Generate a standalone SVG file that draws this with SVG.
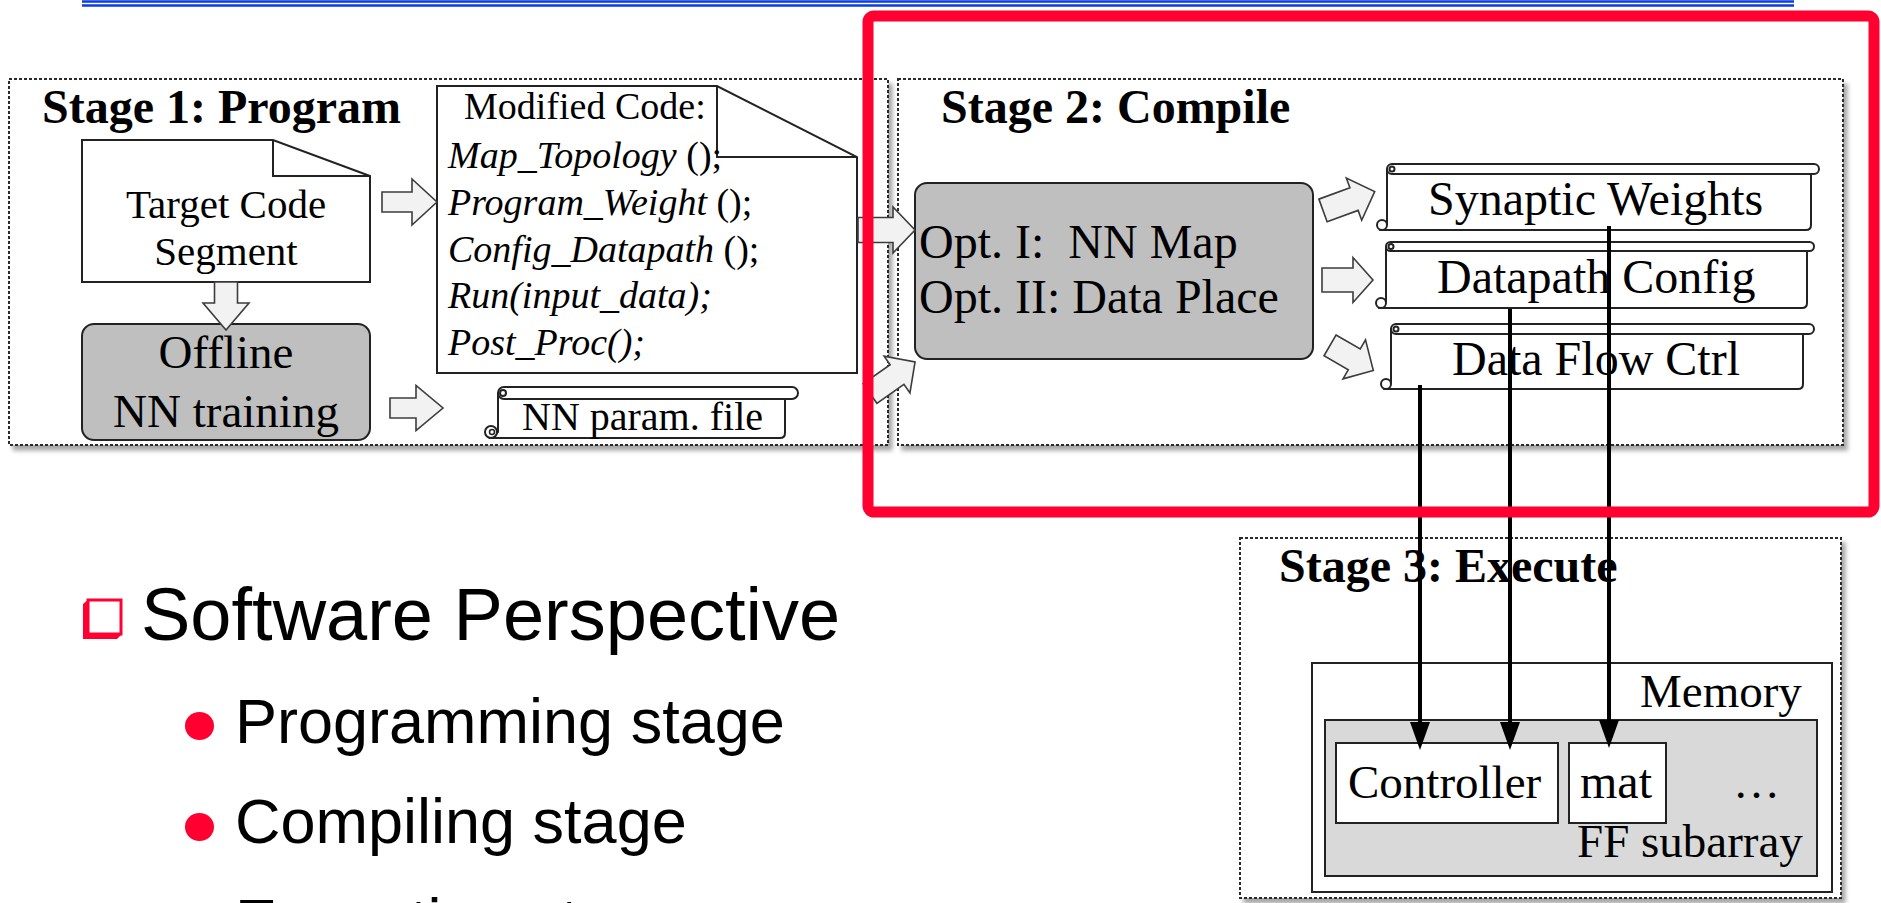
<svg xmlns="http://www.w3.org/2000/svg" width="1881" height="903" viewBox="0 0 1881 903">
  <style>
    .serif { font-family: "Liberation Serif", "Times New Roman", serif; fill: #000; }
    .sans { font-family: "Liberation Sans", Arial, sans-serif; fill: #000; }
    .title { font-weight: bold; font-size: 48px; }
    .stage { fill: #fff; stroke: #2a2a2a; stroke-width: 2; stroke-dasharray: 3 2; }
    .doc { fill: #fff; stroke: #222; stroke-width: 2; }
    .gray { fill: #bfbfbf; stroke: #222; stroke-width: 2; }
    .blk { fill: #f2f2f2; stroke: #3c3c3c; stroke-width: 1.6; stroke-linejoin: miter; }
    .scroll { fill: #fff; stroke: #222; stroke-width: 2; }
    .line { fill: none; stroke: #222; stroke-width: 2; }
    .wire { fill: none; stroke: #000; stroke-width: 4; }
    .red { fill: #ff0030; }
  </style>
  <defs>
    <filter id="shadow" x="-5%" y="-5%" width="115%" height="115%">
      <feDropShadow dx="4" dy="5" stdDeviation="2" flood-color="#000" flood-opacity="0.35"/>
    </filter>
    <marker id="head" viewBox="0 0 28 20" refX="18" refY="10" markerWidth="28" markerHeight="20" markerUnits="userSpaceOnUse" orient="auto">
      <path d="M0,0 L28,10 L0,20 z" fill="#000"/>
    </marker>
  </defs>

  <rect width="1881" height="903" fill="#fff"/>

  <!-- slide header rule -->
  <g id="header-rule">
    <line x1="82" y1="1.5" x2="1794" y2="1.5" stroke="#0a3be0" stroke-width="2.5"/>
    <line x1="82" y1="5.5" x2="1794" y2="5.5" stroke="#0a3be0" stroke-width="2.5"/>
  </g>

  <!-- Stage 1 -->
  <g id="stage1">
    <rect class="stage" x="9" y="79" width="879" height="366" filter="url(#shadow)"/>
    <text class="serif title" x="42" y="123">Stage 1: Program</text>
  </g>

  <g id="target-code">
    <path class="doc" d="M82,140 H273 L370,176 V282 H82 Z"/>
    <path class="line" d="M273,140 V176 H370"/>
    <text class="serif" font-size="41" text-anchor="middle" x="226" y="218">Target Code</text>
    <text class="serif" font-size="41" text-anchor="middle" x="226" y="265">Segment</text>
  </g>

  <g id="offline-training">
    <rect class="gray" x="82" y="324" width="288" height="116" rx="12"/>
    <text class="serif" font-size="47" text-anchor="middle" x="226" y="368">Offline</text>
    <text class="serif" font-size="47" text-anchor="middle" x="226" y="427">NN training</text>
  </g>

  <g id="modified-code">
    <path class="doc" d="M437,86 H717 L857,157 V373 H437 Z"/>
    <path class="line" d="M717,86 V157 H857"/>
    <text class="serif" font-size="38" x="464" y="119">Modified Code:</text>
    <g class="serif" font-size="38">
      <text x="448" y="168"><tspan font-style="italic">Map_Topology</tspan> ();</text>
      <text x="448" y="215"><tspan font-style="italic">Program_Weight</tspan> ();</text>
      <text x="448" y="262"><tspan font-style="italic">Config_Datapath</tspan> ();</text>
      <text x="448" y="308" font-style="italic">Run(input_data);</text>
      <text x="448" y="355" font-style="italic">Post_Proc();</text>
    </g>
  </g>

  <g id="nn-param-file">
    <path class="scroll" d="M498,393 V432 L491,438 H780 Q785,438 785,433 V399"/>
    <rect class="scroll" x="498" y="387" width="300" height="12" rx="6"/>
    <circle class="scroll" cx="503" cy="393" r="3"/>
    <circle class="scroll" cx="491" cy="432" r="6"/>
    <circle fill="none" stroke="#222" stroke-width="1.5" cx="492" cy="432" r="2.5"/>
    <text class="serif" font-size="40" x="522" y="430">NN param. file</text>
  </g>

  <!-- Stage 2 -->
  <g id="stage2">
    <rect class="stage" x="898" y="79" width="945" height="366" filter="url(#shadow)"/>
    <text class="serif title" x="941" y="123">Stage 2: Compile</text>
  </g>

  <g id="optimizer">
    <rect class="gray" x="915" y="183" width="398" height="176" rx="12"/>
    <text class="serif" font-size="48" x="919" y="258" xml:space="preserve">Opt. I:  NN Map</text>
    <text class="serif" font-size="48" x="919" y="313">Opt. II: Data Place</text>
  </g>

  <g id="synaptic-weights">
    <path class="scroll" d="M1387,169 V224 L1381,230 H1806 Q1811,230 1811,225 V173"/>
    <rect class="scroll" x="1387" y="164" width="432" height="10" rx="5"/>
    <circle class="scroll" cx="1392" cy="169" r="2.5"/>
    <circle class="scroll" cx="1382" cy="225" r="5"/>
    <text class="serif" font-size="48" x="1428" y="215">Synaptic Weights</text>
  </g>

  <g id="datapath-config">
    <path class="scroll" d="M1386,247 V302 L1380,308 H1802 Q1807,308 1807,303 V251"/>
    <rect class="scroll" x="1386" y="242" width="428" height="9" rx="4.5"/>
    <circle class="scroll" cx="1391" cy="246.5" r="2.5"/>
    <circle class="scroll" cx="1381" cy="303" r="5"/>
    <text class="serif" font-size="48" x="1437" y="293">Datapath Config</text>
  </g>

  <g id="data-flow-ctrl">
    <path class="scroll" d="M1391,329 V383 L1385,389 H1798 Q1803,389 1803,384 V334"/>
    <rect class="scroll" x="1391" y="324" width="423" height="10" rx="5"/>
    <circle class="scroll" cx="1396" cy="329" r="2.5"/>
    <circle class="scroll" cx="1386" cy="384" r="5"/>
    <text class="serif" font-size="48" x="1452" y="375">Data Flow Ctrl</text>
  </g>

  <!-- Stage 3 -->
  <g id="stage3">
    <rect class="stage" x="1240" y="538" width="601" height="360" filter="url(#shadow)"/>
    <text class="serif title" x="1279" y="582">Stage 3: Execute</text>
  </g>

  <g id="memory">
    <rect fill="#fff" stroke="#222" stroke-width="2" x="1312" y="663" width="520" height="229"/>
    <text class="serif" font-size="47" x="1640" y="707">Memory</text>
  </g>

  <g id="ff-subarray">
    <rect fill="#d9d9d9" stroke="#222" stroke-width="2" x="1325" y="720" width="492" height="156"/>
    <text class="serif" font-size="47" x="1577" y="857">FF subarray</text>
    <text class="serif" font-size="47" x="1733" y="798">…</text>
  </g>

  <g id="controller">
    <rect fill="#fff" stroke="#222" stroke-width="2" x="1336" y="743" width="222" height="80"/>
    <text class="serif" font-size="47" x="1348" y="798">Controller</text>
  </g>

  <g id="mat">
    <rect fill="#fff" stroke="#222" stroke-width="2" x="1569" y="743" width="97" height="80"/>
    <text class="serif" font-size="48" x="1580" y="798">mat</text>
  </g>

  <!-- connectors -->
  <g id="connectors">
    <polygon class="blk" points="382,192 412,192 412,179 437,202 412,225 412,212 382,212"/>
    <polygon class="blk" points="214.5,282 237.5,282 237.5,303 249,303 226,330 203,303 214.5,303"/>
    <polygon class="blk" points="390,398 416,398 416,385.5 443,408 416,430.5 416,418 390,418"/>
    <polygon class="blk" points="858,217.5 893,217.5 893,207 915,230 893,253 893,242.5 858,242.5"/>
    <polygon class="blk" transform="translate(870,393.5) rotate(-35)" points="0,-12 33,-12 33,-22.5 55,0 33,22.5 33,12 0,12"/>
    <polygon class="blk" transform="translate(1323,210.4) rotate(-20)" points="0,-12 33,-12 33,-22.5 55,0 33,22.5 33,12 0,12"/>
    <polygon class="blk" points="1322,268 1353,268 1353,257.5 1373,280 1353,302.5 1353,292 1322,292"/>
    <polygon class="blk" transform="translate(1330,345.4) rotate(30)" points="0,-12 28,-12 28,-22.5 50,0 28,22.5 28,12 0,12"/>

    <line class="wire" x1="1420" y1="385" x2="1420" y2="740" marker-end="url(#head)"/>
    <line class="wire" x1="1510" y1="309" x2="1510" y2="740" marker-end="url(#head)"/>
    <line class="wire" x1="1609" y1="226" x2="1609" y2="738" marker-end="url(#head)"/>
  </g>

  <!-- highlight frame -->
  <rect id="highlight" x="868" y="16" width="1006" height="496" rx="6" fill="none" stroke="#ff0030" stroke-width="11"/>

  <!-- bullet list -->
  <g id="bullets">
    <polygon class="red" points="83,604 88,600 88,634 122,634 117,639 83,639"/>
    <rect x="88" y="600" width="33" height="34" fill="#fff" stroke="#ff0030" stroke-width="3"/>
    <text class="sans" font-size="74" x="141" y="640">Software Perspective</text>
    <ellipse class="red" cx="199.5" cy="726" rx="14.5" ry="14"/>
    <text class="sans" font-size="63" x="235" y="743">Programming stage</text>
    <ellipse class="red" cx="199.5" cy="827" rx="14.5" ry="14"/>
    <text class="sans" font-size="63" x="235" y="843">Compiling stage</text>
    <ellipse class="red" cx="199.5" cy="927" rx="14.5" ry="14"/>
    <text class="sans" font-size="63" x="235" y="943">Execution stage</text>
  </g>
</svg>
